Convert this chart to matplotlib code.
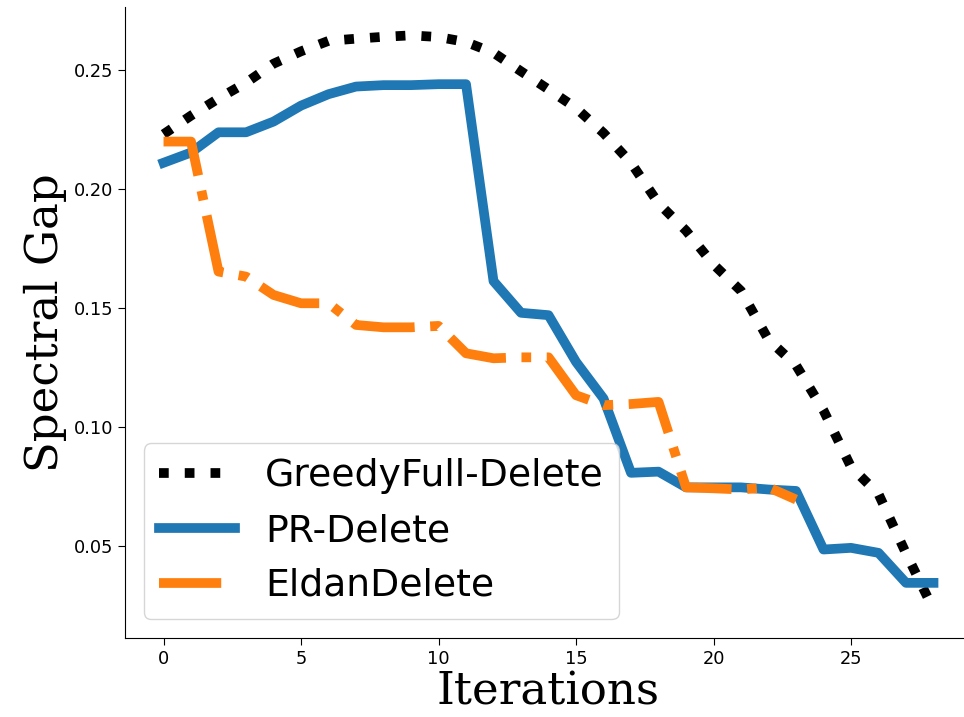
import matplotlib
matplotlib.use("Agg")
import matplotlib.pyplot as plt

greedy_full = [0.223, 0.2308, 0.238, 0.2446, 0.2526, 0.2578, 0.2622, 0.2631, 0.2639,
               0.2645, 0.2638, 0.2617, 0.2572, 0.2494, 0.2418, 0.234, 0.2235, 0.211,
               0.194, 0.1825, 0.1683, 0.1572, 0.1367, 0.126, 0.107, 0.0833, 0.0719,
               0.047, 0.0235]
pr_delete = [0.211, 0.2153, 0.2238, 0.2238, 0.2283, 0.235, 0.2398, 0.243, 0.2436,
             0.2436, 0.244, 0.244, 0.1613, 0.148, 0.147, 0.1274, 0.112, 0.0808,
             0.0813, 0.0747, 0.0747, 0.0747, 0.0738, 0.0732, 0.0486, 0.0493, 0.0472,
             0.0346, 0.0346]
eldan_delete = [0.2199, 0.2199, 0.1653, 0.1632, 0.1555, 0.152, 0.152, 0.1429, 0.1419,
                0.1419, 0.1425, 0.131, 0.1289, 0.1293, 0.1293, 0.1134, 0.1092, 0.1097,
                0.1106, 0.0747, 0.0743, 0.0738, 0.0747, 0.0696]

fig = plt.figure(figsize=(9.64, 7.17), dpi=100)
ax = fig.add_axes([0.1297, 0.1102, 0.8786, 0.8805])

ax.plot(range(len(greedy_full)), greedy_full, ':', color='black', lw=7,
        label='GreedyFull-Delete')
ax.plot(range(len(pr_delete)), pr_delete, '-', color='#1f77b4', lw=7,
        label='PR-Delete')
ax.plot(range(len(eldan_delete)), eldan_delete, '-.', color='#ff7f0e', lw=7,
        label='EldanDelete')

ax.spines['top'].set_visible(False)
ax.spines['right'].set_visible(False)
ax.set_xticks([0, 5, 10, 15, 20, 25])
ax.set_yticks([0.05, 0.10, 0.15, 0.20, 0.25])
ax.tick_params(labelsize=12.8, length=5)

ax.set_xlabel('Iterations', family='DejaVu Serif', fontsize=32.5, labelpad=2)
ax.set_ylabel('Spectral Gap', family='DejaVu Serif', fontsize=32.5, labelpad=5)
ax.legend(loc='lower left', fontsize=27.2)

fig.savefig('out.png', dpi=100)
